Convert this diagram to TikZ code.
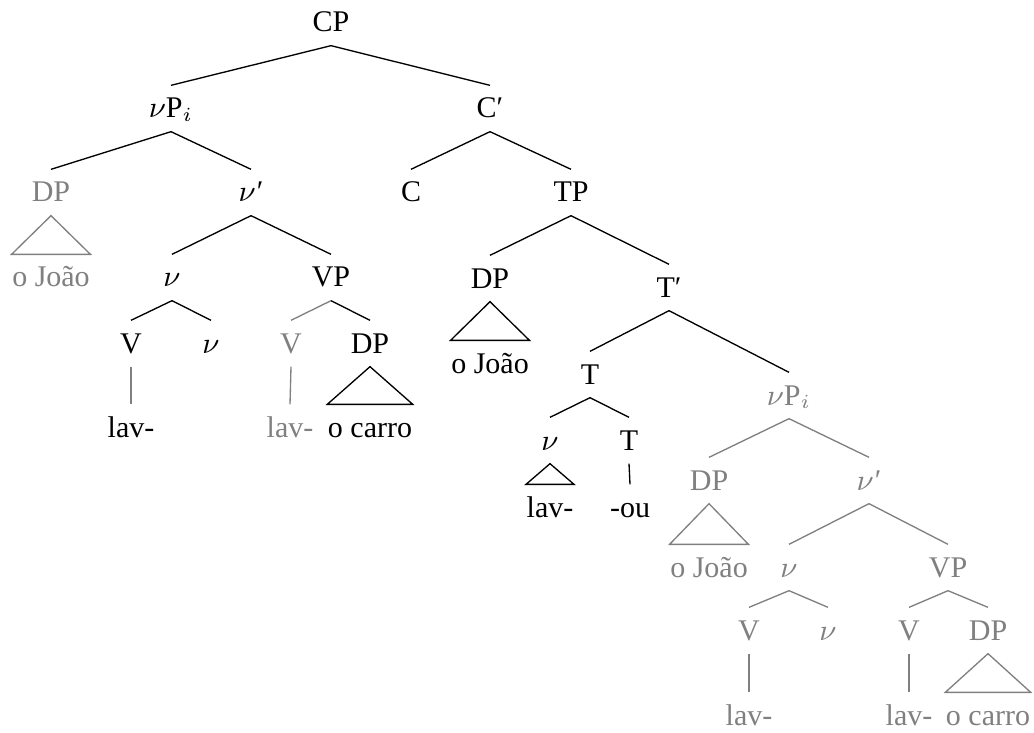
\documentclass[tikz,border=0pt]{standalone}
\usepackage{fontspec}
\setmainfont{Liberation Serif}
\usepackage{tikz}

\definecolor{trace}{gray}{0.5}
\newcommand{\lv}{$\nu$}

\begin{document}
\begin{tikzpicture}[x=0.3pt, y=-0.3pt, font=\fontsize{9}{11}\selectfont,
  every node/.style={inner sep=0pt, text height=9.6pt, text depth=3.9pt, anchor=base},
  tr/.style={text=trace}]
  \useasboundingbox (0,0) rectangle (1034,732);

  \node (cp) at (331,32) {CP};
  \node (vpi) at (171,118) {\lv P$_i$};
  \node (cbar) at (490,118) {C′};
  \node[tr] (dp1) at (51,202) {DP};
  \node (vbar1) at (251,202) {\lv\kern.3pt′};
  \node (c) at (411,202) {C};
  \node (tp) at (571,202) {TP};
  \node[tr] (oj1) at (51,287) {o João};
  \node (v1) at (172,287) {\lv};
  \node (vp1) at (331,287) {VP};
  \node (dp2) at (490,288) {DP};
  \node (tbar) at (669,297) {T′};
  \node (V1) at (131,353) {V};
  \node (vs1) at (211,353) {\lv};
  \node[tr] (V2) at (291,353) {V};
  \node (dp3) at (370,353) {DP};
  \node (oj2) at (490,373) {o João};
  \node (t1) at (590,384) {T};
  \node (lav1) at (131,437) {lav-};
  \node[tr] (lav2) at (290,437) {lav-};
  \node (oc1) at (370,437) {o carro};
  \node[tr] (vpi2) at (789,405) {\lv P$_i$};
  \node (v2) at (550,450) {\lv};
  \node (t2) at (629,450) {T};
  \node[tr] (dp4) at (709,490) {DP};
  \node[tr] (vbar2) at (869,490) {\lv\kern.3pt′};
  \node (lav3) at (550,517) {lav-};
  \node (ou) at (630,517) {-ou};
  \node[tr] (oj3) at (709,577) {o João};
  \node[tr] (v3) at (789,577) {\lv};
  \node[tr] (vp2) at (948,577) {VP};
  \node[tr] (V3) at (749,640) {V};
  \node[tr] (vs2) at (828,640) {\lv};
  \node[tr] (V4) at (909,640) {V};
  \node[tr] (dp5) at (988,640) {DP};
  \node[tr] (lav4) at (749,725) {lav-};
  \node[tr] (lav5) at (909,725) {lav-};
  \node[tr] (oc2) at (988,725) {o carro};

  % branches
  \foreach \a/\b in {cp/vpi, cp/cbar, vpi/dp1, vpi/vbar1, cbar/c, cbar/tp,
      vbar1/v1, vbar1/vp1, tp/dp2, tp/tbar, v1/V1, v1/vs1, vp1/dp3,
      tbar/t1, tbar/vpi2, t1/v2, t1/t2, t2/ou}
    \draw (\a.south) -- (\b.north);
  \foreach \a/\b in {V1/lav1, vp1/V2, V2/lav2, vpi2/dp4, vpi2/vbar2,
      vbar2/v3, vbar2/vp2, v3/V3, v3/vs2, vp2/V4, vp2/dp5, V3/lav4, V4/lav5}
    \draw[trace] (\a.south) -- (\b.north);

  % roofs
  \foreach \a/\b in {dp3/oc1, dp2/oj2, v2/lav3}
    \draw (\a.south) -- (\b.north west) -- (\b.north east) -- cycle;
  \foreach \a/\b in {dp1/oj1, dp4/oj3, dp5/oc2}
    \draw[trace] (\a.south) -- (\b.north west) -- (\b.north east) -- cycle;
\end{tikzpicture}
\end{document}
